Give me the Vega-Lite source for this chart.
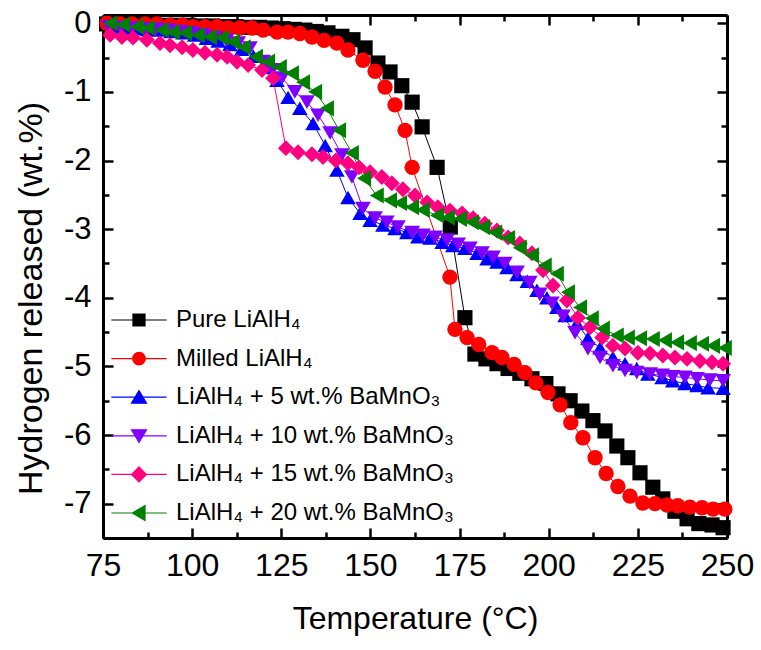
{
  "$schema": "https://vega.github.io/schema/vega-lite/v6.json",
  "width": 624,
  "height": 523,
  "autosize": "none",
  "padding": {"left": 103, "top": 15, "right": 34, "bottom": 112},
  "background": "white",
  "config": {
    "view": {"stroke": null},
    "font": "Liberation Sans",
    "axis": {
      "labelFont": "Liberation Sans",
      "titleFont": "Liberation Sans",
      "titleFontWeight": "normal",
      "labelColor": "black",
      "titleColor": "black",
      "domainColor": "black",
      "tickColor": "black",
      "domainWidth": 3,
      "tickWidth": 2.5,
      "grid": false,
      "labelOverlap": false,
      "labelFlush": false,
      "labelBound": false
    }
  },
  "data": {
    "values": [
      {"series": "Pure LiAlH₄", "t": 76.0, "h": -0.01},
      {"series": "Pure LiAlH₄", "t": 79.3, "h": -0.01},
      {"series": "Pure LiAlH₄", "t": 82.6, "h": -0.02},
      {"series": "Pure LiAlH₄", "t": 85.9, "h": -0.02},
      {"series": "Pure LiAlH₄", "t": 89.2, "h": -0.02},
      {"series": "Pure LiAlH₄", "t": 92.5, "h": -0.03},
      {"series": "Pure LiAlH₄", "t": 95.8, "h": -0.03},
      {"series": "Pure LiAlH₄", "t": 99.1, "h": -0.03},
      {"series": "Pure LiAlH₄", "t": 102.4, "h": -0.04},
      {"series": "Pure LiAlH₄", "t": 105.7, "h": -0.04},
      {"series": "Pure LiAlH₄", "t": 109.0, "h": -0.05},
      {"series": "Pure LiAlH₄", "t": 112.3, "h": -0.05},
      {"series": "Pure LiAlH₄", "t": 115.6, "h": -0.06},
      {"series": "Pure LiAlH₄", "t": 118.9, "h": -0.06},
      {"series": "Pure LiAlH₄", "t": 122.2, "h": -0.07},
      {"series": "Pure LiAlH₄", "t": 125.5, "h": -0.08},
      {"series": "Pure LiAlH₄", "t": 128.6, "h": -0.09},
      {"series": "Pure LiAlH₄", "t": 131.6, "h": -0.10},
      {"series": "Pure LiAlH₄", "t": 134.8, "h": -0.12},
      {"series": "Pure LiAlH₄", "t": 138.1, "h": -0.14},
      {"series": "Pure LiAlH₄", "t": 142.0, "h": -0.19},
      {"series": "Pure LiAlH₄", "t": 145.1, "h": -0.24},
      {"series": "Pure LiAlH₄", "t": 148.5, "h": -0.36},
      {"series": "Pure LiAlH₄", "t": 152.1, "h": -0.58},
      {"series": "Pure LiAlH₄", "t": 155.5, "h": -0.71},
      {"series": "Pure LiAlH₄", "t": 158.8, "h": -0.91},
      {"series": "Pure LiAlH₄", "t": 161.7, "h": -1.15},
      {"series": "Pure LiAlH₄", "t": 164.5, "h": -1.51},
      {"series": "Pure LiAlH₄", "t": 168.7, "h": -2.10},
      {"series": "Pure LiAlH₄", "t": 172.4, "h": -2.97},
      {"series": "Pure LiAlH₄", "t": 176.5, "h": -4.29},
      {"series": "Pure LiAlH₄", "t": 179.3, "h": -4.82},
      {"series": "Pure LiAlH₄", "t": 182.4, "h": -4.89},
      {"series": "Pure LiAlH₄", "t": 185.5, "h": -4.96},
      {"series": "Pure LiAlH₄", "t": 188.6, "h": -5.03},
      {"series": "Pure LiAlH₄", "t": 191.9, "h": -5.10},
      {"series": "Pure LiAlH₄", "t": 195.3, "h": -5.18},
      {"series": "Pure LiAlH₄", "t": 199.2, "h": -5.25},
      {"series": "Pure LiAlH₄", "t": 202.6, "h": -5.40},
      {"series": "Pure LiAlH₄", "t": 206.0, "h": -5.50},
      {"series": "Pure LiAlH₄", "t": 209.3, "h": -5.65},
      {"series": "Pure LiAlH₄", "t": 212.4, "h": -5.79},
      {"series": "Pure LiAlH₄", "t": 215.8, "h": -5.94},
      {"series": "Pure LiAlH₄", "t": 219.1, "h": -6.16},
      {"series": "Pure LiAlH₄", "t": 222.2, "h": -6.33},
      {"series": "Pure LiAlH₄", "t": 225.6, "h": -6.55},
      {"series": "Pure LiAlH₄", "t": 229.2, "h": -6.76},
      {"series": "Pure LiAlH₄", "t": 232.0, "h": -6.93},
      {"series": "Pure LiAlH₄", "t": 235.4, "h": -7.11},
      {"series": "Pure LiAlH₄", "t": 238.8, "h": -7.22},
      {"series": "Pure LiAlH₄", "t": 242.1, "h": -7.29},
      {"series": "Pure LiAlH₄", "t": 245.8, "h": -7.31},
      {"series": "Pure LiAlH₄", "t": 248.9, "h": -7.35},

      {"series": "Milled LiAlH₄", "t": 76.1, "h": 0.00},
      {"series": "Milled LiAlH₄", "t": 79.8, "h": -0.01},
      {"series": "Milled LiAlH₄", "t": 83.1, "h": -0.01},
      {"series": "Milled LiAlH₄", "t": 86.8, "h": -0.01},
      {"series": "Milled LiAlH₄", "t": 90.1, "h": -0.01},
      {"series": "Milled LiAlH₄", "t": 93.8, "h": -0.03},
      {"series": "Milled LiAlH₄", "t": 97.2, "h": -0.03},
      {"series": "Milled LiAlH₄", "t": 100.2, "h": -0.05},
      {"series": "Milled LiAlH₄", "t": 103.6, "h": -0.05},
      {"series": "Milled LiAlH₄", "t": 107.0, "h": -0.05},
      {"series": "Milled LiAlH₄", "t": 110.1, "h": -0.07},
      {"series": "Milled LiAlH₄", "t": 113.4, "h": -0.07},
      {"series": "Milled LiAlH₄", "t": 116.8, "h": -0.07},
      {"series": "Milled LiAlH₄", "t": 119.9, "h": -0.10},
      {"series": "Milled LiAlH₄", "t": 123.8, "h": -0.13},
      {"series": "Milled LiAlH₄", "t": 126.9, "h": -0.13},
      {"series": "Milled LiAlH₄", "t": 130.2, "h": -0.15},
      {"series": "Milled LiAlH₄", "t": 133.6, "h": -0.20},
      {"series": "Milled LiAlH₄", "t": 137.0, "h": -0.25},
      {"series": "Milled LiAlH₄", "t": 140.6, "h": -0.29},
      {"series": "Milled LiAlH₄", "t": 143.7, "h": -0.39},
      {"series": "Milled LiAlH₄", "t": 147.9, "h": -0.54},
      {"series": "Milled LiAlH₄", "t": 151.3, "h": -0.70},
      {"series": "Milled LiAlH₄", "t": 154.1, "h": -0.93},
      {"series": "Milled LiAlH₄", "t": 156.9, "h": -1.19},
      {"series": "Milled LiAlH₄", "t": 159.7, "h": -1.56},
      {"series": "Milled LiAlH₄", "t": 161.7, "h": -2.10},
      {"series": "Milled LiAlH₄", "t": 172.3, "h": -3.70},
      {"series": "Milled LiAlH₄", "t": 173.7, "h": -4.46},
      {"series": "Milled LiAlH₄", "t": 177.1, "h": -4.58},
      {"series": "Milled LiAlH₄", "t": 180.4, "h": -4.68},
      {"series": "Milled LiAlH₄", "t": 184.1, "h": -4.80},
      {"series": "Milled LiAlH₄", "t": 186.9, "h": -4.87},
      {"series": "Milled LiAlH₄", "t": 190.3, "h": -4.97},
      {"series": "Milled LiAlH₄", "t": 193.3, "h": -5.09},
      {"series": "Milled LiAlH₄", "t": 196.4, "h": -5.24},
      {"series": "Milled LiAlH₄", "t": 199.8, "h": -5.38},
      {"series": "Milled LiAlH₄", "t": 203.2, "h": -5.56},
      {"series": "Milled LiAlH₄", "t": 206.2, "h": -5.82},
      {"series": "Milled LiAlH₄", "t": 209.6, "h": -6.04},
      {"series": "Milled LiAlH₄", "t": 213.0, "h": -6.33},
      {"series": "Milled LiAlH₄", "t": 216.1, "h": -6.56},
      {"series": "Milled LiAlH₄", "t": 219.4, "h": -6.75},
      {"series": "Milled LiAlH₄", "t": 222.8, "h": -6.89},
      {"series": "Milled LiAlH₄", "t": 226.4, "h": -6.99},
      {"series": "Milled LiAlH₄", "t": 229.8, "h": -7.00},
      {"series": "Milled LiAlH₄", "t": 233.2, "h": -7.02},
      {"series": "Milled LiAlH₄", "t": 236.2, "h": -7.03},
      {"series": "Milled LiAlH₄", "t": 239.6, "h": -7.05},
      {"series": "Milled LiAlH₄", "t": 243.0, "h": -7.06},
      {"series": "Milled LiAlH₄", "t": 246.1, "h": -7.08},
      {"series": "Milled LiAlH₄", "t": 249.4, "h": -7.08},

      {"series": "LiAlH₄ + 5 wt.% BaMnO₃", "t": 77.6, "h": -0.06},
      {"series": "LiAlH₄ + 5 wt.% BaMnO₃", "t": 80.9, "h": -0.07},
      {"series": "LiAlH₄ + 5 wt.% BaMnO₃", "t": 84.2, "h": -0.08},
      {"series": "LiAlH₄ + 5 wt.% BaMnO₃", "t": 87.5, "h": -0.09},
      {"series": "LiAlH₄ + 5 wt.% BaMnO₃", "t": 90.8, "h": -0.10},
      {"series": "LiAlH₄ + 5 wt.% BaMnO₃", "t": 94.1, "h": -0.12},
      {"series": "LiAlH₄ + 5 wt.% BaMnO₃", "t": 97.4, "h": -0.14},
      {"series": "LiAlH₄ + 5 wt.% BaMnO₃", "t": 100.7, "h": -0.17},
      {"series": "LiAlH₄ + 5 wt.% BaMnO₃", "t": 104.0, "h": -0.22},
      {"series": "LiAlH₄ + 5 wt.% BaMnO₃", "t": 107.3, "h": -0.26},
      {"series": "LiAlH₄ + 5 wt.% BaMnO₃", "t": 110.6, "h": -0.31},
      {"series": "LiAlH₄ + 5 wt.% BaMnO₃", "t": 113.9, "h": -0.38},
      {"series": "LiAlH₄ + 5 wt.% BaMnO₃", "t": 117.2, "h": -0.48},
      {"series": "LiAlH₄ + 5 wt.% BaMnO₃", "t": 120.5, "h": -0.64},
      {"series": "LiAlH₄ + 5 wt.% BaMnO₃", "t": 123.8, "h": -0.83},
      {"series": "LiAlH₄ + 5 wt.% BaMnO₃", "t": 126.9, "h": -1.08},
      {"series": "LiAlH₄ + 5 wt.% BaMnO₃", "t": 130.2, "h": -1.24},
      {"series": "LiAlH₄ + 5 wt.% BaMnO₃", "t": 133.9, "h": -1.46},
      {"series": "LiAlH₄ + 5 wt.% BaMnO₃", "t": 137.3, "h": -1.78},
      {"series": "LiAlH₄ + 5 wt.% BaMnO₃", "t": 140.6, "h": -2.14},
      {"series": "LiAlH₄ + 5 wt.% BaMnO₃", "t": 143.7, "h": -2.54},
      {"series": "LiAlH₄ + 5 wt.% BaMnO₃", "t": 147.1, "h": -2.77},
      {"series": "LiAlH₄ + 5 wt.% BaMnO₃", "t": 149.9, "h": -2.87},
      {"series": "LiAlH₄ + 5 wt.% BaMnO₃", "t": 153.5, "h": -2.94},
      {"series": "LiAlH₄ + 5 wt.% BaMnO₃", "t": 156.9, "h": -2.99},
      {"series": "LiAlH₄ + 5 wt.% BaMnO₃", "t": 160.2, "h": -3.05},
      {"series": "LiAlH₄ + 5 wt.% BaMnO₃", "t": 163.3, "h": -3.11},
      {"series": "LiAlH₄ + 5 wt.% BaMnO₃", "t": 166.7, "h": -3.13},
      {"series": "LiAlH₄ + 5 wt.% BaMnO₃", "t": 170.1, "h": -3.19},
      {"series": "LiAlH₄ + 5 wt.% BaMnO₃", "t": 173.1, "h": -3.24},
      {"series": "LiAlH₄ + 5 wt.% BaMnO₃", "t": 176.5, "h": -3.28},
      {"series": "LiAlH₄ + 5 wt.% BaMnO₃", "t": 179.9, "h": -3.35},
      {"series": "LiAlH₄ + 5 wt.% BaMnO₃", "t": 182.7, "h": -3.43},
      {"series": "LiAlH₄ + 5 wt.% BaMnO₃", "t": 185.5, "h": -3.48},
      {"series": "LiAlH₄ + 5 wt.% BaMnO₃", "t": 188.3, "h": -3.56},
      {"series": "LiAlH₄ + 5 wt.% BaMnO₃", "t": 191.1, "h": -3.66},
      {"series": "LiAlH₄ + 5 wt.% BaMnO₃", "t": 194.0, "h": -3.76},
      {"series": "LiAlH₄ + 5 wt.% BaMnO₃", "t": 196.7, "h": -3.89},
      {"series": "LiAlH₄ + 5 wt.% BaMnO₃", "t": 199.5, "h": -4.00},
      {"series": "LiAlH₄ + 5 wt.% BaMnO₃", "t": 202.3, "h": -4.14},
      {"series": "LiAlH₄ + 5 wt.% BaMnO₃", "t": 204.6, "h": -4.26},
      {"series": "LiAlH₄ + 5 wt.% BaMnO₃", "t": 207.9, "h": -4.37},
      {"series": "LiAlH₄ + 5 wt.% BaMnO₃", "t": 211.0, "h": -4.59},
      {"series": "LiAlH₄ + 5 wt.% BaMnO₃", "t": 214.4, "h": -4.73},
      {"series": "LiAlH₄ + 5 wt.% BaMnO₃", "t": 218.0, "h": -4.87},
      {"series": "LiAlH₄ + 5 wt.% BaMnO₃", "t": 221.4, "h": -4.96},
      {"series": "LiAlH₄ + 5 wt.% BaMnO₃", "t": 224.7, "h": -5.03},
      {"series": "LiAlH₄ + 5 wt.% BaMnO₃", "t": 227.8, "h": -5.11},
      {"series": "LiAlH₄ + 5 wt.% BaMnO₃", "t": 231.8, "h": -5.16},
      {"series": "LiAlH₄ + 5 wt.% BaMnO₃", "t": 234.8, "h": -5.21},
      {"series": "LiAlH₄ + 5 wt.% BaMnO₃", "t": 238.2, "h": -5.25},
      {"series": "LiAlH₄ + 5 wt.% BaMnO₃", "t": 241.6, "h": -5.28},
      {"series": "LiAlH₄ + 5 wt.% BaMnO₃", "t": 244.7, "h": -5.31},
      {"series": "LiAlH₄ + 5 wt.% BaMnO₃", "t": 248.9, "h": -5.32},

      {"series": "LiAlH₄ + 10 wt.% BaMnO₃", "t": 76.6, "h": -0.05},
      {"series": "LiAlH₄ + 10 wt.% BaMnO₃", "t": 79.9, "h": -0.06},
      {"series": "LiAlH₄ + 10 wt.% BaMnO₃", "t": 83.2, "h": -0.07},
      {"series": "LiAlH₄ + 10 wt.% BaMnO₃", "t": 86.5, "h": -0.08},
      {"series": "LiAlH₄ + 10 wt.% BaMnO₃", "t": 89.8, "h": -0.09},
      {"series": "LiAlH₄ + 10 wt.% BaMnO₃", "t": 93.1, "h": -0.10},
      {"series": "LiAlH₄ + 10 wt.% BaMnO₃", "t": 96.4, "h": -0.12},
      {"series": "LiAlH₄ + 10 wt.% BaMnO₃", "t": 99.7, "h": -0.14},
      {"series": "LiAlH₄ + 10 wt.% BaMnO₃", "t": 103.0, "h": -0.17},
      {"series": "LiAlH₄ + 10 wt.% BaMnO₃", "t": 106.3, "h": -0.21},
      {"series": "LiAlH₄ + 10 wt.% BaMnO₃", "t": 109.6, "h": -0.25},
      {"series": "LiAlH₄ + 10 wt.% BaMnO₃", "t": 112.9, "h": -0.29},
      {"series": "LiAlH₄ + 10 wt.% BaMnO₃", "t": 116.2, "h": -0.36},
      {"series": "LiAlH₄ + 10 wt.% BaMnO₃", "t": 119.9, "h": -0.56},
      {"series": "LiAlH₄ + 10 wt.% BaMnO₃", "t": 122.5, "h": -0.68},
      {"series": "LiAlH₄ + 10 wt.% BaMnO₃", "t": 125.2, "h": -0.80},
      {"series": "LiAlH₄ + 10 wt.% BaMnO₃", "t": 128.8, "h": -1.00},
      {"series": "LiAlH₄ + 10 wt.% BaMnO₃", "t": 132.2, "h": -1.15},
      {"series": "LiAlH₄ + 10 wt.% BaMnO₃", "t": 135.3, "h": -1.34},
      {"series": "LiAlH₄ + 10 wt.% BaMnO₃", "t": 138.7, "h": -1.60},
      {"series": "LiAlH₄ + 10 wt.% BaMnO₃", "t": 142.0, "h": -1.92},
      {"series": "LiAlH₄ + 10 wt.% BaMnO₃", "t": 144.8, "h": -2.24},
      {"series": "LiAlH₄ + 10 wt.% BaMnO₃", "t": 147.9, "h": -2.70},
      {"series": "LiAlH₄ + 10 wt.% BaMnO₃", "t": 151.3, "h": -2.84},
      {"series": "LiAlH₄ + 10 wt.% BaMnO₃", "t": 154.6, "h": -2.90},
      {"series": "LiAlH₄ + 10 wt.% BaMnO₃", "t": 157.7, "h": -2.97},
      {"series": "LiAlH₄ + 10 wt.% BaMnO₃", "t": 161.7, "h": -3.05},
      {"series": "LiAlH₄ + 10 wt.% BaMnO₃", "t": 164.7, "h": -3.09},
      {"series": "LiAlH₄ + 10 wt.% BaMnO₃", "t": 168.1, "h": -3.12},
      {"series": "LiAlH₄ + 10 wt.% BaMnO₃", "t": 171.5, "h": -3.16},
      {"series": "LiAlH₄ + 10 wt.% BaMnO₃", "t": 174.6, "h": -3.22},
      {"series": "LiAlH₄ + 10 wt.% BaMnO₃", "t": 177.9, "h": -3.28},
      {"series": "LiAlH₄ + 10 wt.% BaMnO₃", "t": 181.3, "h": -3.35},
      {"series": "LiAlH₄ + 10 wt.% BaMnO₃", "t": 184.4, "h": -3.41},
      {"series": "LiAlH₄ + 10 wt.% BaMnO₃", "t": 187.7, "h": -3.50},
      {"series": "LiAlH₄ + 10 wt.% BaMnO₃", "t": 191.1, "h": -3.63},
      {"series": "LiAlH₄ + 10 wt.% BaMnO₃", "t": 194.7, "h": -3.78},
      {"series": "LiAlH₄ + 10 wt.% BaMnO₃", "t": 197.5, "h": -3.95},
      {"series": "LiAlH₄ + 10 wt.% BaMnO₃", "t": 200.9, "h": -4.08},
      {"series": "LiAlH₄ + 10 wt.% BaMnO₃", "t": 204.0, "h": -4.27},
      {"series": "LiAlH₄ + 10 wt.% BaMnO₃", "t": 207.4, "h": -4.51},
      {"series": "LiAlH₄ + 10 wt.% BaMnO₃", "t": 211.0, "h": -4.74},
      {"series": "LiAlH₄ + 10 wt.% BaMnO₃", "t": 214.4, "h": -4.87},
      {"series": "LiAlH₄ + 10 wt.% BaMnO₃", "t": 218.0, "h": -4.99},
      {"series": "LiAlH₄ + 10 wt.% BaMnO₃", "t": 221.4, "h": -5.06},
      {"series": "LiAlH₄ + 10 wt.% BaMnO₃", "t": 224.7, "h": -5.09},
      {"series": "LiAlH₄ + 10 wt.% BaMnO₃", "t": 228.4, "h": -5.11},
      {"series": "LiAlH₄ + 10 wt.% BaMnO₃", "t": 231.8, "h": -5.13},
      {"series": "LiAlH₄ + 10 wt.% BaMnO₃", "t": 234.8, "h": -5.15},
      {"series": "LiAlH₄ + 10 wt.% BaMnO₃", "t": 238.2, "h": -5.16},
      {"series": "LiAlH₄ + 10 wt.% BaMnO₃", "t": 241.6, "h": -5.18},
      {"series": "LiAlH₄ + 10 wt.% BaMnO₃", "t": 245.2, "h": -5.20},
      {"series": "LiAlH₄ + 10 wt.% BaMnO₃", "t": 248.9, "h": -5.21},

      {"series": "LiAlH₄ + 15 wt.% BaMnO₃", "t": 77.0, "h": -0.17},
      {"series": "LiAlH₄ + 15 wt.% BaMnO₃", "t": 80.3, "h": -0.20},
      {"series": "LiAlH₄ + 15 wt.% BaMnO₃", "t": 83.4, "h": -0.21},
      {"series": "LiAlH₄ + 15 wt.% BaMnO₃", "t": 87.3, "h": -0.24},
      {"series": "LiAlH₄ + 15 wt.% BaMnO₃", "t": 91.0, "h": -0.29},
      {"series": "LiAlH₄ + 15 wt.% BaMnO₃", "t": 93.8, "h": -0.32},
      {"series": "LiAlH₄ + 15 wt.% BaMnO₃", "t": 97.2, "h": -0.35},
      {"series": "LiAlH₄ + 15 wt.% BaMnO₃", "t": 100.2, "h": -0.39},
      {"series": "LiAlH₄ + 15 wt.% BaMnO₃", "t": 103.6, "h": -0.43},
      {"series": "LiAlH₄ + 15 wt.% BaMnO₃", "t": 107.0, "h": -0.46},
      {"series": "LiAlH₄ + 15 wt.% BaMnO₃", "t": 109.8, "h": -0.49},
      {"series": "LiAlH₄ + 15 wt.% BaMnO₃", "t": 112.6, "h": -0.56},
      {"series": "LiAlH₄ + 15 wt.% BaMnO₃", "t": 115.7, "h": -0.61},
      {"series": "LiAlH₄ + 15 wt.% BaMnO₃", "t": 119.6, "h": -0.68},
      {"series": "LiAlH₄ + 15 wt.% BaMnO₃", "t": 122.7, "h": -0.80},
      {"series": "LiAlH₄ + 15 wt.% BaMnO₃", "t": 126.3, "h": -1.82},
      {"series": "LiAlH₄ + 15 wt.% BaMnO₃", "t": 129.7, "h": -1.88},
      {"series": "LiAlH₄ + 15 wt.% BaMnO₃", "t": 133.6, "h": -1.91},
      {"series": "LiAlH₄ + 15 wt.% BaMnO₃", "t": 136.7, "h": -1.95},
      {"series": "LiAlH₄ + 15 wt.% BaMnO₃", "t": 140.3, "h": -2.00},
      {"series": "LiAlH₄ + 15 wt.% BaMnO₃", "t": 143.7, "h": -2.04},
      {"series": "LiAlH₄ + 15 wt.% BaMnO₃", "t": 146.8, "h": -2.10},
      {"series": "LiAlH₄ + 15 wt.% BaMnO₃", "t": 149.9, "h": -2.17},
      {"series": "LiAlH₄ + 15 wt.% BaMnO₃", "t": 153.2, "h": -2.24},
      {"series": "LiAlH₄ + 15 wt.% BaMnO₃", "t": 156.0, "h": -2.33},
      {"series": "LiAlH₄ + 15 wt.% BaMnO₃", "t": 159.1, "h": -2.42},
      {"series": "LiAlH₄ + 15 wt.% BaMnO₃", "t": 162.5, "h": -2.51},
      {"series": "LiAlH₄ + 15 wt.% BaMnO₃", "t": 165.9, "h": -2.61},
      {"series": "LiAlH₄ + 15 wt.% BaMnO₃", "t": 168.9, "h": -2.68},
      {"series": "LiAlH₄ + 15 wt.% BaMnO₃", "t": 172.3, "h": -2.73},
      {"series": "LiAlH₄ + 15 wt.% BaMnO₃", "t": 175.7, "h": -2.77},
      {"series": "LiAlH₄ + 15 wt.% BaMnO₃", "t": 178.8, "h": -2.84},
      {"series": "LiAlH₄ + 15 wt.% BaMnO₃", "t": 182.1, "h": -2.92},
      {"series": "LiAlH₄ + 15 wt.% BaMnO₃", "t": 185.5, "h": -3.02},
      {"series": "LiAlH₄ + 15 wt.% BaMnO₃", "t": 188.6, "h": -3.12},
      {"series": "LiAlH₄ + 15 wt.% BaMnO₃", "t": 191.9, "h": -3.21},
      {"series": "LiAlH₄ + 15 wt.% BaMnO₃", "t": 195.3, "h": -3.35},
      {"series": "LiAlH₄ + 15 wt.% BaMnO₃", "t": 198.4, "h": -3.60},
      {"series": "LiAlH₄ + 15 wt.% BaMnO₃", "t": 201.2, "h": -3.82},
      {"series": "LiAlH₄ + 15 wt.% BaMnO₃", "t": 205.1, "h": -4.04},
      {"series": "LiAlH₄ + 15 wt.% BaMnO₃", "t": 208.2, "h": -4.29},
      {"series": "LiAlH₄ + 15 wt.% BaMnO₃", "t": 211.6, "h": -4.43},
      {"series": "LiAlH₄ + 15 wt.% BaMnO₃", "t": 215.0, "h": -4.58},
      {"series": "LiAlH₄ + 15 wt.% BaMnO₃", "t": 218.0, "h": -4.70},
      {"series": "LiAlH₄ + 15 wt.% BaMnO₃", "t": 221.4, "h": -4.74},
      {"series": "LiAlH₄ + 15 wt.% BaMnO₃", "t": 225.0, "h": -4.80},
      {"series": "LiAlH₄ + 15 wt.% BaMnO₃", "t": 228.4, "h": -4.81},
      {"series": "LiAlH₄ + 15 wt.% BaMnO₃", "t": 232.0, "h": -4.84},
      {"series": "LiAlH₄ + 15 wt.% BaMnO₃", "t": 235.4, "h": -4.87},
      {"series": "LiAlH₄ + 15 wt.% BaMnO₃", "t": 238.8, "h": -4.89},
      {"series": "LiAlH₄ + 15 wt.% BaMnO₃", "t": 242.4, "h": -4.92},
      {"series": "LiAlH₄ + 15 wt.% BaMnO₃", "t": 245.8, "h": -4.94},
      {"series": "LiAlH₄ + 15 wt.% BaMnO₃", "t": 248.9, "h": -4.96},

      {"series": "LiAlH₄ + 20 wt.% BaMnO₃", "t": 77.0, "h": 0.00},
      {"series": "LiAlH₄ + 20 wt.% BaMnO₃", "t": 80.6, "h": -0.02},
      {"series": "LiAlH₄ + 20 wt.% BaMnO₃", "t": 84.5, "h": -0.05},
      {"series": "LiAlH₄ + 20 wt.% BaMnO₃", "t": 87.6, "h": -0.07},
      {"series": "LiAlH₄ + 20 wt.% BaMnO₃", "t": 91.5, "h": -0.10},
      {"series": "LiAlH₄ + 20 wt.% BaMnO₃", "t": 94.6, "h": -0.13},
      {"series": "LiAlH₄ + 20 wt.% BaMnO₃", "t": 98.0, "h": -0.14},
      {"series": "LiAlH₄ + 20 wt.% BaMnO₃", "t": 101.6, "h": -0.17},
      {"series": "LiAlH₄ + 20 wt.% BaMnO₃", "t": 105.0, "h": -0.20},
      {"series": "LiAlH₄ + 20 wt.% BaMnO₃", "t": 108.4, "h": -0.21},
      {"series": "LiAlH₄ + 20 wt.% BaMnO₃", "t": 111.5, "h": -0.27},
      {"series": "LiAlH₄ + 20 wt.% BaMnO₃", "t": 114.5, "h": -0.35},
      {"series": "LiAlH₄ + 20 wt.% BaMnO₃", "t": 117.9, "h": -0.49},
      {"series": "LiAlH₄ + 20 wt.% BaMnO₃", "t": 121.3, "h": -0.56},
      {"series": "LiAlH₄ + 20 wt.% BaMnO₃", "t": 124.6, "h": -0.64},
      {"series": "LiAlH₄ + 20 wt.% BaMnO₃", "t": 128.0, "h": -0.73},
      {"series": "LiAlH₄ + 20 wt.% BaMnO₃", "t": 131.1, "h": -0.86},
      {"series": "LiAlH₄ + 20 wt.% BaMnO₃", "t": 134.5, "h": -1.00},
      {"series": "LiAlH₄ + 20 wt.% BaMnO₃", "t": 137.8, "h": -1.24},
      {"series": "LiAlH₄ + 20 wt.% BaMnO₃", "t": 141.2, "h": -1.56},
      {"series": "LiAlH₄ + 20 wt.% BaMnO₃", "t": 144.8, "h": -1.89},
      {"series": "LiAlH₄ + 20 wt.% BaMnO₃", "t": 148.2, "h": -2.26},
      {"series": "LiAlH₄ + 20 wt.% BaMnO₃", "t": 151.8, "h": -2.51},
      {"series": "LiAlH₄ + 20 wt.% BaMnO₃", "t": 155.5, "h": -2.58},
      {"series": "LiAlH₄ + 20 wt.% BaMnO₃", "t": 158.3, "h": -2.62},
      {"series": "LiAlH₄ + 20 wt.% BaMnO₃", "t": 161.7, "h": -2.68},
      {"series": "LiAlH₄ + 20 wt.% BaMnO₃", "t": 164.7, "h": -2.72},
      {"series": "LiAlH₄ + 20 wt.% BaMnO₃", "t": 168.7, "h": -2.80},
      {"series": "LiAlH₄ + 20 wt.% BaMnO₃", "t": 171.7, "h": -2.83},
      {"series": "LiAlH₄ + 20 wt.% BaMnO₃", "t": 175.1, "h": -2.85},
      {"series": "LiAlH₄ + 20 wt.% BaMnO₃", "t": 178.5, "h": -2.90},
      {"series": "LiAlH₄ + 20 wt.% BaMnO₃", "t": 181.6, "h": -2.97},
      {"series": "LiAlH₄ + 20 wt.% BaMnO₃", "t": 185.0, "h": -3.05},
      {"series": "LiAlH₄ + 20 wt.% BaMnO₃", "t": 188.6, "h": -3.13},
      {"series": "LiAlH₄ + 20 wt.% BaMnO₃", "t": 191.9, "h": -3.27},
      {"series": "LiAlH₄ + 20 wt.% BaMnO₃", "t": 195.3, "h": -3.38},
      {"series": "LiAlH₄ + 20 wt.% BaMnO₃", "t": 198.9, "h": -3.53},
      {"series": "LiAlH₄ + 20 wt.% BaMnO₃", "t": 202.3, "h": -3.65},
      {"series": "LiAlH₄ + 20 wt.% BaMnO₃", "t": 205.4, "h": -3.92},
      {"series": "LiAlH₄ + 20 wt.% BaMnO₃", "t": 208.8, "h": -4.14},
      {"series": "LiAlH₄ + 20 wt.% BaMnO₃", "t": 212.1, "h": -4.30},
      {"series": "LiAlH₄ + 20 wt.% BaMnO₃", "t": 215.2, "h": -4.45},
      {"series": "LiAlH₄ + 20 wt.% BaMnO₃", "t": 219.1, "h": -4.55},
      {"series": "LiAlH₄ + 20 wt.% BaMnO₃", "t": 222.2, "h": -4.58},
      {"series": "LiAlH₄ + 20 wt.% BaMnO₃", "t": 225.6, "h": -4.59},
      {"series": "LiAlH₄ + 20 wt.% BaMnO₃", "t": 229.2, "h": -4.60},
      {"series": "LiAlH₄ + 20 wt.% BaMnO₃", "t": 232.6, "h": -4.62},
      {"series": "LiAlH₄ + 20 wt.% BaMnO₃", "t": 236.0, "h": -4.65},
      {"series": "LiAlH₄ + 20 wt.% BaMnO₃", "t": 239.6, "h": -4.66},
      {"series": "LiAlH₄ + 20 wt.% BaMnO₃", "t": 243.0, "h": -4.67},
      {"series": "LiAlH₄ + 20 wt.% BaMnO₃", "t": 246.1, "h": -4.70},
      {"series": "LiAlH₄ + 20 wt.% BaMnO₃", "t": 249.4, "h": -4.73}
    ]
  },
  "layer": [
    {
      "mark": {"type": "line", "strokeWidth": 1},
      "encoding": {
        "x": {
          "field": "t",
          "type": "quantitative",
          "scale": {"domain": [75, 250], "nice": false, "zero": false},
          "axis": {
            "orient": "bottom",
            "values": [75, 87.5, 100, 112.5, 125, 137.5, 150, 162.5, 175, 187.5, 200, 212.5, 225, 237.5, 250],
            "labelExpr": "datum.value % 25 === 0 ? '' + datum.value : ''",
            "labelFontSize": 32,
            "labelPadding": 22,
            "tickSize": {"condition": {"test": "datum.value % 25 !== 0", "value": -6}, "value": -10},
            "title": "Temperature (°C)",
            "titleFontSize": 32,
            "titleBaseline": "alphabetic",
            "titleY": 90
          }
        },
        "y": {
          "field": "h",
          "type": "quantitative",
          "scale": {"domain": [-7.5, 0.12], "nice": false, "zero": false},
          "axis": {
            "orient": "left",
            "values": [0, -0.5, -1, -1.5, -2, -2.5, -3, -3.5, -4, -4.5, -5, -5.5, -6, -6.5, -7, -7.5],
            "labelExpr": "datum.value % 1 === 0 ? '' + datum.value : ''",
            "labelFontSize": 31,
            "labelPadding": 22,
            "tickSize": {"condition": {"test": "datum.value % 1 !== 0", "value": -6}, "value": -10},
            "title": "Hydrogen released (wt.%)",
            "titleFontSize": 34,
            "titleBaseline": "alphabetic",
            "titleX": -62,
            "titleY": 283
          }
        },
        "stroke": {
          "field": "series",
          "type": "nominal",
          "scale": {
            "domain": ["LiAlH₄ + 20 wt.% BaMnO₃", "LiAlH₄ + 15 wt.% BaMnO₃", "LiAlH₄ + 10 wt.% BaMnO₃", "LiAlH₄ + 5 wt.% BaMnO₃", "Milled LiAlH₄", "Pure LiAlH₄"],
            "range": ["#008000", "#ff0080", "#8000ff", "#0000ff", "#ff0000", "#000000"]
          },
          "legend": null
        }
      }
    },
    {
      "mark": {"type": "point", "filled": true, "opacity": 1, "strokeWidth": 0},
      "encoding": {
        "x": {
          "field": "t",
          "type": "quantitative",
          "axis": {
            "orient": "top",
            "values": [75, 87.5, 100, 112.5, 125, 137.5, 150, 162.5, 175, 187.5, 200, 212.5, 225, 237.5, 250],
            "labels": false,
            "title": null,
            "tickSize": {"condition": {"test": "datum.value % 25 !== 0", "value": -6}, "value": -10}
          }
        },
        "y": {
          "field": "h",
          "type": "quantitative",
          "axis": {
            "orient": "right",
            "values": [0, -0.5, -1, -1.5, -2, -2.5, -3, -3.5, -4, -4.5, -5, -5.5, -6, -6.5, -7, -7.5],
            "labels": false,
            "title": null,
            "tickSize": {"condition": {"test": "datum.value % 1 !== 0", "value": -6}, "value": -10}
          }
        },
        "color": {
          "field": "series",
          "type": "nominal",
          "scale": {
            "domain": ["Pure LiAlH₄", "Milled LiAlH₄", "LiAlH₄ + 5 wt.% BaMnO₃", "LiAlH₄ + 10 wt.% BaMnO₃", "LiAlH₄ + 15 wt.% BaMnO₃", "LiAlH₄ + 20 wt.% BaMnO₃"],
            "range": ["#000000", "#ff0000", "#0000ff", "#8000ff", "#ff0080", "#008000"]
          },
          "legend": {
            "orient": "none",
            "legendX": 24,
            "legendY": 293,
            "title": null,
            "padding": 0,
            "labelFont": "Liberation Sans",
            "labelFontSize": 24,
            "labelColor": "black",
            "labelLimit": 0,
            "labelOffset": 25,
            "rowPadding": 14.6,
            "symbolSize": 144,
            "symbolStrokeWidth": 1.2,
            "symbolOpacity": 1,
            "encode": {
              "symbols": {
                "update": {
                  "shape": {"signal": "['M-4.6,0H4.6M-1,-1H1V1H-1Z', 'M-4.6,0H4.6M-1.05,0A1.05,1.05,0,1,1,1.05,0A1.05,1.05,0,1,1,-1.05,0Z', 'M-4.6,0H4.6M0,-1.1L1.25,1H-1.25Z', 'M-4.6,0H4.6M0,1.1L1.25,-1H-1.25Z', 'M-4.6,0H4.6M0,-1.25L1.25,0L0,1.25L-1.25,0Z', 'M-4.6,0H4.6M-1.1,0L1,-1.25V1.25Z'][datum.index]"},
                  "stroke": {"signal": "scale('color', datum.value)"},
                  "strokeWidth": {"value": 1.2}
                }
              }
            }
          }
        },
        "shape": {
          "field": "series",
          "type": "nominal",
          "scale": {
            "domain": ["LiAlH₄ + 20 wt.% BaMnO₃", "LiAlH₄ + 15 wt.% BaMnO₃", "LiAlH₄ + 10 wt.% BaMnO₃", "LiAlH₄ + 5 wt.% BaMnO₃", "Milled LiAlH₄", "Pure LiAlH₄"],
            "range": ["triangle-left", "diamond", "triangle-down", "triangle-up", "circle", "square"]
          },
          "legend": null
        },
        "size": {
          "field": "series",
          "type": "ordinal",
          "scale": {
            "domain": ["LiAlH₄ + 20 wt.% BaMnO₃", "LiAlH₄ + 15 wt.% BaMnO₃", "LiAlH₄ + 10 wt.% BaMnO₃", "LiAlH₄ + 5 wt.% BaMnO₃", "Milled LiAlH₄", "Pure LiAlH₄"],
            "range": [260, 230, 260, 260, 200, 185]
          },
          "legend": null
        }
      }
    }
  ],
  "resolve": {"axis": {"x": "independent", "y": "independent"}}
}
